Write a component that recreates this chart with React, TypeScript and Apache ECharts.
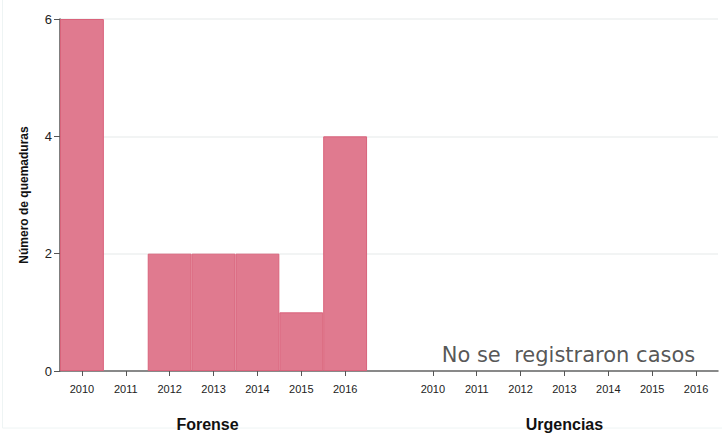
import React, { useEffect, useRef } from "react";
import * as echarts from "echarts";

const years = ["2010", "2011", "2012", "2013", "2014", "2015", "2016"];
const groups = ["Forense", "Urgencias"];
const forenseValues = [6, 0, 2, 2, 2, 1, 4];
const urgenciasValues: (number | null)[] = [null, null, null, null, null, null, null];
const yTicks = [0, 2, 4, 6];
const noDataText = "No se  registraron casos";
const yName = "Número de quemaduras";

export default function App() {
  const ref = useRef<HTMLDivElement>(null);
  useEffect(() => {
    document.body.style.margin = "0";
    const chart = echarts.init(ref.current!, null, { renderer: "svg" });
    // 15 slots: 7 Forense years, one gap, 7 Urgencias years
    const cats = [...years, "", ...years];
    const groupCats = cats.map((_, i) =>
      i === 3 ? groups[0] : i === 11 ? groups[1] : ""
    );
    const values = [
      ...forenseValues.map((v) => (v === 0 ? null : v)),
      null,
      ...urgenciasValues,
    ];
    const gapIdx = 7;
    const font = "Liberation Sans, Arial, sans-serif";
    chart.setOption({
      animation: false,
      graphic: [
        {
          type: "rect",
          shape: { x: 2.5, y: -2, width: 740, height: 430 },
          style: { fill: "none", stroke: "#eef4f4", lineWidth: 1 },
          silent: true,
        },
      ],
      grid: { left: 60, right: 4, top: 19, bottom: 62, containLabel: false },
      xAxis: [
        {
          type: "category",
          data: cats,
          boundaryGap: true,
          axisLine: { show: true, lineStyle: { color: "#666", width: 1.5 } },
          axisTick: {
            show: true,
            alignWithLabel: true,
            length: 5,
            interval: (i: number) => i !== gapIdx,
            lineStyle: { color: "#555", width: 1 },
          },
          axisLabel: {
            interval: 0,
            color: "#222",
            fontSize: 11,
            fontFamily: font,
            margin: 12,
          },
          splitLine: { show: false },
        },
        {
          type: "category",
          data: groupCats,
          position: "bottom",
          offset: 37,
          axisLine: { show: false },
          axisTick: { show: false },
          axisLabel: {
            interval: 0,
            color: "#111",
            fontSize: 16,
            fontWeight: "bold",
            fontFamily: font,
            formatter: (v: string) => (v === groups[0] ? "{f|" + v + "}" : v),
            rich: {
              f: {
                fontSize: 16,
                fontWeight: "bold",
                fontFamily: font,
                color: "#111",
                padding: [0, 12, 0, 0],
              },
            },
          },
        },
      ],
      yAxis: {
        type: "value",
        min: 0,
        max: 6,
        interval: 2,
        name: yName,
        nameLocation: "middle",
        nameGap: 30,
        nameTextStyle: { fontSize: 12, fontWeight: "bold", color: "#111", fontFamily: font },
        axisLine: { show: true, lineStyle: { color: "#555", width: 1.5 } },
        axisTick: { show: true, length: 6, lineStyle: { color: "#555" } },
        axisLabel: {
          color: "#222",
          fontSize: 13,
          fontFamily: font,
          margin: 8,
          formatter: (v: number) => (yTicks.includes(v) ? String(v) : ""),
        },
        splitLine: { show: true, lineStyle: { color: "#eef0f0", width: 1.5 } },
      },
      series: [
        {
          type: "bar",
          data: values,
          barCategoryGap: "0%",
          itemStyle: {
            color: "#e07a8f",
            borderColor: "#d9637b",
            borderWidth: 1,
          },
        },
        {
          type: "scatter",
          symbolSize: 0,
          data: [[11, 0]],
          label: {
            show: true,
            position: "top",
            distance: 6,
            offset: [4, 0],
            formatter: noDataText,
            fontSize: 21,
            color: "#2a2a2a",
            fontFamily: "DejaVu Sans, Open Sans, sans-serif",
            fontWeight: "normal",
          },
          silent: true,
        },
      ],
    });
    return () => chart.dispose();
  }, []);
  return (
    <div
      ref={ref}
      style={{ position: "absolute", left: 0, top: 0, width: 722, height: 433 }}
    />
  );
}
